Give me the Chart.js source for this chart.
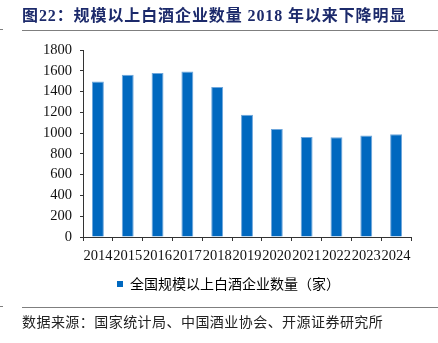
<!DOCTYPE html>
<html>
<head>
<meta charset="utf-8">
<script src="https://cdn.jsdelivr.net/npm/chart.js@4.4.0/dist/chart.umd.min.js"></script>
<style>
  html, body { margin: 0; padding: 0; background: #fff; }
  #wrap { position: relative; width: 438px; height: 343px; overflow: hidden; }
  #chart { position: absolute; left: 0; top: 0; }
  .title {
    position: absolute; left: 22px; top: 6px; white-space: nowrap;
    font: bold 16px "Liberation Serif", "Noto Sans CJK SC", serif;
    color: #1c2a6b; letter-spacing: 0.9px; line-height: 20px;
  }
  .rule { position: absolute; height: 1px; background: #7f7f7f; }
  .src {
    position: absolute; left: 22px; top: 312px; white-space: nowrap;
    font: 14px "Noto Sans CJK SC", sans-serif; color: #222;
    letter-spacing: 0.45px; line-height: 18px;
  }
</style>
</head>
<body>
<div id="wrap">
  <canvas id="chart" width="438" height="343"></canvas>
  <div class="title">图22：规模以上白酒企业数量 2018 年以来下降明显</div>
  <div class="rule" style="left:22px; top:30px; width:416px;"></div>
  <div class="rule" style="left:0; top:29px; width:3px;"></div>
  <div class="rule" style="left:22px; top:307px; width:416px;"></div>
  <div class="rule" style="left:0; top:306px; width:3px;"></div>
  <div class="src">数据来源：国家统计局、中国酒业协会、开源证券研究所</div>
</div>
<script>
// 规模以上白酒企业数量（家）
const years = ['2014', '2015', '2016', '2017', '2018', '2019', '2020', '2021', '2022', '2023', '2024'];
const firms = [1497, 1562, 1578, 1593, 1445, 1176, 1040, 963, 961, 978, 989];
const yTicks = [0, 200, 400, 600, 800, 1000, 1200, 1400, 1600, 1800];

const serif = '"Liberation Serif", "Times New Roman", serif';

// 图例整体右移，让它落在绘图区下方居中
const legendShift = {
  id: 'legendShift',
  afterUpdate(chart) {
    chart.legend.left += 23;
    chart.legend.right += 23;
  }
};

new Chart(document.getElementById('chart').getContext('2d'), {
  type: 'bar',
  data: {
    labels: years,
    datasets: [{
      label: '全国规模以上白酒企业数量（家）',
      data: firms,
      backgroundColor: '#0068bf',
      borderColor: '#6ea7dc',
      borderWidth: { left: 1, right: 1, top: 1, bottom: 0 },
      borderSkipped: 'bottom',
      barPercentage: 0.4,
      categoryPercentage: 1
    }]
  },
  plugins: [legendShift],
  options: {
    responsive: false,
    animation: false,
    layout: { padding: { top: 50, right: 27, bottom: 42, left: 0 } },
    plugins: {
      tooltip: { enabled: false },
      legend: {
        position: 'bottom',
        labels: {
          boxWidth: 6, boxHeight: 6, padding: 10,
          color: '#222',
          font: { family: '"Noto Sans CJK SC", sans-serif', size: 14 },
          generateLabels: chart => [{
            text: chart.data.datasets[0].label,
            fillStyle: '#0068bf', strokeStyle: '#0068bf', lineWidth: 0,
            datasetIndex: 0
          }]
        }
      }
    },
    scales: {
      x: {
        afterFit: s => { s.height = 30; },
        border: { color: '#333', width: 1 },
        grid: { offset: true, drawOnChartArea: false, tickLength: 4, color: '#333' },
        ticks: { color: '#111', padding: 6, maxRotation: 0, autoSkip: false,
                 font: { family: serif, size: 14.5 } }
      },
      y: {
        min: 0, max: 1800,
        afterFit: s => { s.width = 83; },
        afterBuildTicks: s => { s.ticks = yTicks.map(v => ({ value: v })); },
        border: { color: '#333', width: 1 },
        grid: { drawOnChartArea: false, tickLength: 3, color: '#333' },
        ticks: { color: '#111', padding: 8, font: { family: serif, size: 14.5 },
                 callback: v => String(v) }
      }
    }
  }
});
</script>
</body>
</html>
